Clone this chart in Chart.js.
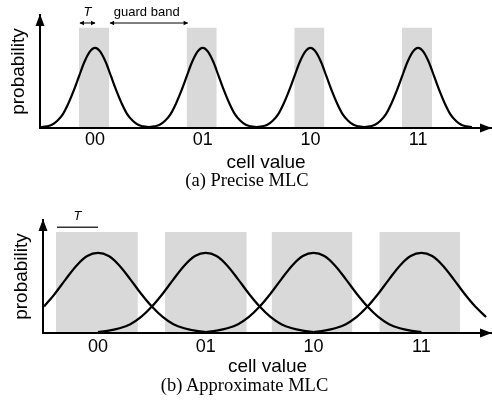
<!DOCTYPE html>
<html>
<head>
<meta charset="utf-8">
<script src="https://cdn.jsdelivr.net/npm/chart.js@4.4.1/dist/chart.umd.min.js"></script>
<style>
  html, body { margin: 0; padding: 0; background: #fff; }
  #wrap { position: relative; width: 492px; height: 414px; overflow: hidden; }
  canvas { position: absolute; left: 0; }
  .cap { position: absolute; left: 0; text-align: center; white-space: nowrap; color: #000;
         font-family: "Liberation Serif", "Times New Roman", serif; font-size: 18.5px; line-height: 20px; }
</style>
</head>
<body>
<div id="wrap">
  <canvas id="c1" width="492" height="180" style="top:0"></canvas>
  <div class="cap" style="top:170px;width:494px">(a) Precise MLC</div>
  <canvas id="c2" width="492" height="180" style="top:200px"></canvas>
  <div class="cap" style="top:375px;width:489px">(b) Approximate MLC</div>
</div>
<script>
// cell levels on the x axis
const tickValues = [0, 1, 2, 3];
const tickLabels = ['00', '01', '10', '11'];

// (a) precise MLC - one continuous curve
const precX = [
  -0.5,-0.45,-0.4,-0.35,-0.3,-0.25,-0.2,-0.15,-0.1,-0.05,
  0,0.05,0.1,0.15,0.2,0.25,0.3,0.35,0.4,0.45,
  0.5,0.55,0.6,0.65,0.7,0.75,0.8,0.85,0.9,0.95,
  1,1.05,1.1,1.15,1.2,1.25,1.3,1.35,1.4,1.45,
  1.5,1.55,1.6,1.65,1.7,1.75,1.8,1.85,1.9,1.95,
  2,2.05,2.1,2.15,2.2,2.25,2.3,2.35,2.4,2.45,
  2.5,2.55,2.6,2.65,2.7,2.75,2.8,2.85,2.9,2.95,
  3,3.05,3.1,3.15,3.2,3.25,3.3,3.35,3.4,3.45,
  3.5
];
const precY = [
  0.01,0.02,0.04,0.09,0.17,0.30,0.46,0.64,0.82,0.95,
  1.00,0.95,0.82,0.64,0.46,0.30,0.17,0.09,0.04,0.02,
  0.01,0.02,0.04,0.09,0.17,0.30,0.46,0.64,0.82,0.95,
  1.00,0.95,0.82,0.64,0.46,0.30,0.17,0.09,0.04,0.02,
  0.01,0.02,0.04,0.09,0.17,0.30,0.46,0.64,0.82,0.95,
  1.00,0.95,0.82,0.64,0.46,0.30,0.17,0.09,0.04,0.02,
  0.01,0.02,0.04,0.09,0.17,0.30,0.46,0.64,0.82,0.95,
  1.00,0.95,0.82,0.64,0.46,0.30,0.17,0.09,0.04,0.02,
  0.01
];
const precBands = [[-0.15, 0.13], [0.85, 1.13], [1.85, 2.13], [2.85, 3.13]];
const precBandTop = 1.25;

// (b) approximate MLC - four overlapping curves
const approxX = [
  -0.5,-0.4,-0.3,-0.2,-0.1,
  0,0.1,0.2,0.3,0.4,0.5,0.6,0.7,0.8,0.9,
  1,1.1,1.2,1.3,1.4,1.5,1.6,1.7,1.8,1.9,
  2,2.1,2.2,2.3,2.4,2.5,2.6,2.7,2.8,2.9,
  3,3.1,3.2,3.3,3.4,3.5,3.6
];
const approx00 = [
  0.33,0.49,0.67,0.84,0.96,
  1.00,0.96,0.84,0.67,0.49,0.33,0.20,0.11,0.06,0.03,
  0.01,null,null,null,null,null,null,null,null,null,
  null,null,null,null,null,null,null,null,null,null,
  null,null,null,null,null,null,null
];
const approx01 = [
  null,null,null,null,null,
  0.01,0.03,0.06,0.11,0.20,0.33,0.49,0.67,0.84,0.96,
  1.00,0.96,0.84,0.67,0.49,0.33,0.20,0.11,0.06,0.03,
  0.01,null,null,null,null,null,null,null,null,null,
  null,null,null,null,null,null,null
];
const approx10 = [
  null,null,null,null,null,
  null,null,null,null,null,null,null,null,null,null,
  0.01,0.03,0.06,0.11,0.20,0.33,0.49,0.67,0.84,0.96,
  1.00,0.96,0.84,0.67,0.49,0.33,0.20,0.11,0.06,0.03,
  0.01,null,null,null,null,null,null
];
const approx11 = [
  null,null,null,null,null,
  null,null,null,null,null,null,null,null,null,null,
  null,null,null,null,null,null,null,null,null,null,
  0.01,0.03,0.06,0.11,0.20,0.33,0.49,0.67,0.84,0.96,
  1.00,0.96,0.84,0.67,0.49,0.33,0.20
];
const approxBands = [[-0.39, 0.37], [0.62, 1.38], [1.61, 2.36], [2.61, 3.36]];
const approxBandTop = 1.26;

const SANS = '"Liberation Sans", Arial, Helvetica, sans-serif';
const BAND = '#d9d9d9';

// arrow heads on the ends of both axes
const axisArrows = {
  id: 'axisArrows',
  afterDraw(chart) {
    const a = chart.chartArea, ctx = chart.ctx;
    ctx.save();
    ctx.fillStyle = '#000';
    ctx.beginPath();
    ctx.moveTo(a.left, a.top - 1); ctx.lineTo(a.left - 4.5, a.top + 11); ctx.lineTo(a.left + 4.5, a.top + 11); ctx.closePath();
    ctx.moveTo(a.right, a.bottom); ctx.lineTo(a.right - 12, a.bottom - 4.5); ctx.lineTo(a.right - 12, a.bottom + 4.5); ctx.closePath();
    ctx.fill();
    ctx.restore();
  }
};

// "T" / "guard band" dimension marks, placed in data units
const marks = {
  id: 'marks',
  afterDraw(chart, args, opts) {
    const xs = chart.scales.x, ys = chart.scales.y, ctx = chart.ctx;
    (opts.items || []).forEach(function (m) {
      const x1 = xs.getPixelForValue(m.from), x2 = xs.getPixelForValue(m.to), y = ys.getPixelForValue(m.y);
      ctx.save();
      ctx.strokeStyle = m.color; ctx.fillStyle = m.color; ctx.lineWidth = m.width;
      ctx.beginPath(); ctx.moveTo(x1, y); ctx.lineTo(x2, y); ctx.stroke();
      if (m.heads) {
        ctx.beginPath();
        ctx.moveTo(x1 - 0.5, y); ctx.lineTo(x1 + 4, y - 2.2); ctx.lineTo(x1 + 4, y + 2.2); ctx.closePath();
        ctx.moveTo(x2 + 0.5, y); ctx.lineTo(x2 - 4, y - 2.2); ctx.lineTo(x2 - 4, y + 2.2); ctx.closePath();
        ctx.fill();
      }
      ctx.fillStyle = '#000';
      ctx.font = m.font;
      ctx.textAlign = 'center'; ctx.textBaseline = 'middle';
      ctx.fillText(m.label, xs.getPixelForValue(m.lx), ys.getPixelForValue(m.ly));
      ctx.restore();
    });
  }
};

function pts(xs, ys) { return xs.map(function (x, i) { return { x: x, y: ys[i] }; }); }

function curve(xs, ys) {
  return { data: pts(xs, ys), borderColor: '#000', borderWidth: 2.2, pointRadius: 0,
           cubicInterpolationMode: 'monotone', fill: false, spanGaps: false, order: 0 };
}

function bands(list, top) {
  return list.map(function (b) {
    return { data: [{ x: b[0], y: top }, { x: b[1], y: top }], fill: 'origin', backgroundColor: BAND,
             borderColor: 'rgba(0,0,0,0)', borderWidth: 0, pointRadius: 0, order: 1 };
  });
}

function buildChart(id, cfg) {
  return new Chart(document.getElementById(id), {
    type: 'line',
    data: { datasets: cfg.datasets },
    plugins: [axisArrows, marks],
    options: {
      responsive: false, animation: false, devicePixelRatio: 1,
      layout: { padding: { top: cfg.padTop, right: 0, bottom: 0, left: 0 } },
      plugins: { legend: { display: false }, tooltip: { enabled: false }, marks: { items: cfg.marks } },
      scales: {
        x: {
          type: 'linear', min: cfg.xMin, max: cfg.xMax,
          afterFit: function (s) { s.height = cfg.xHeight; },
          afterBuildTicks: function (s) { s.ticks = tickValues.map(function (v) { return { value: v }; }); },
          ticks: { callback: function (v, i) { return tickLabels[i]; }, color: '#000', padding: cfg.tickPad,
                   autoSkip: false, maxRotation: 0, font: { family: SANS, size: 18 } },
          grid: { display: false, drawTicks: false },
          border: { display: true, color: '#000', width: 2, z: 1 },
          title: { display: true, text: 'cell value', color: '#000', font: { family: SANS, size: 19 },
                   padding: { top: 0, bottom: cfg.xTitlePad } }
        },
        y: {
          min: 0, max: 1.41,
          afterFit: function (s) { s.width = cfg.yWidth; },
          ticks: { display: false },
          grid: { display: false, drawTicks: false },
          border: { display: true, color: '#000', width: 2, z: 1 },
          title: { display: true, text: 'probability', color: '#000', font: { family: SANS, size: 19 },
                   padding: { top: cfg.yTitlePad, bottom: 0 } }
        }
      }
    }
  });
}

// (a)
buildChart('c1', {
  datasets: [curve(precX, precY)].concat(bands(precBands, precBandTop)),
  xMin: -0.511, xMax: 3.686, padTop: 15, xHeight: 52, yWidth: 40,
  tickPad: 1.7, xTitlePad: 5.9, yTitlePad: 7.1,
  marks: [
    { from: -0.14, to: 0, y: 1.31, heads: true, color: '#000', width: 1, label: 'T', lx: -0.07, ly: 1.44,
      font: 'italic 13px ' + SANS },
    { from: 0.14, to: 0.86, y: 1.31, heads: true, color: '#000', width: 1, label: 'guard band', lx: 0.48, ly: 1.44,
      font: '13px ' + SANS }
  ]
});

// (b)
buildChart('c2', {
  datasets: [curve(approxX, approx00), curve(approxX, approx01), curve(approxX, approx10), curve(approxX, approx11)]
    .concat(bands(approxBands, approxBandTop)),
  xMin: -0.51, xMax: 3.655, padTop: 20, xHeight: 47, yWidth: 43,
  tickPad: 3.7, xTitlePad: 1.9, yTitlePad: 10.1,
  marks: [
    { from: -0.38, to: 0, y: 1.32, heads: false, color: '#333', width: 1.6, label: 'T', lx: -0.19, ly: 1.45,
      font: 'italic 13px ' + SANS }
  ]
});
</script>
</body>
</html>
